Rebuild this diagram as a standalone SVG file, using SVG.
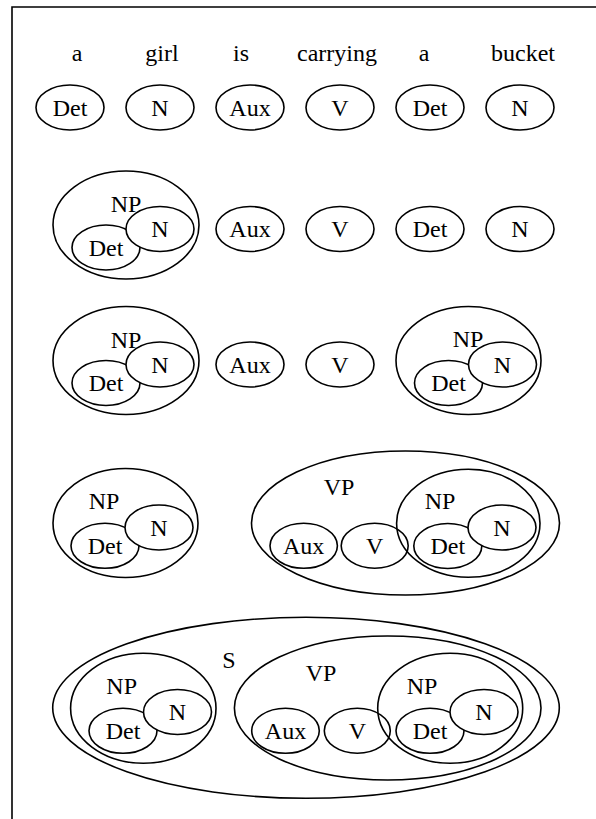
<svg xmlns="http://www.w3.org/2000/svg" width="596" height="819" viewBox="0 0 596 819">
  <style>
    .frame { fill: none; stroke: #000; stroke-width: 1.6; }
    ellipse { fill: none; stroke: #000; stroke-width: 1.6; }
    ellipse.top { fill: #fff; }
    text { font-family: "Liberation Serif", "Times New Roman", Times, "DejaVu Serif", serif; font-size: 24px; fill: #000; text-anchor: middle; }
  </style>
  <rect width="596" height="819" fill="#fff"/>
  <!-- open frame: top and left edges -->
  <path class="frame" d="M12,819 V7 H596"/>
  <g id="connectors"/>

  <g font-family="Liberation Serif, Times New Roman, serif">
  <!-- row 1: words and their categories -->
  <g id="words">
    <text x="77" y="61">a</text>
    <text x="162" y="61">girl</text>
    <text x="241" y="61">is</text>
    <text x="337" y="61">carrying</text>
    <text x="424" y="61">a</text>
    <text x="523" y="61">bucket</text>
  </g>
  <g id="r1-det1"><ellipse cx="70" cy="107.5" rx="34" ry="22.5"/><text x="70" y="115.5">Det</text></g>
  <g id="r1-n1"><ellipse cx="160" cy="107.5" rx="34" ry="22.5"/><text x="160" y="115.5">N</text></g>
  <g id="r1-aux"><ellipse cx="250" cy="107.5" rx="34" ry="22.5"/><text x="250" y="115.5">Aux</text></g>
  <g id="r1-v"><ellipse cx="340" cy="107.5" rx="34" ry="22.5"/><text x="340" y="115.5">V</text></g>
  <g id="r1-det2"><ellipse cx="430" cy="107.5" rx="34" ry="22.5"/><text x="430" y="115.5">Det</text></g>
  <g id="r1-n2"><ellipse cx="520" cy="107.5" rx="34" ry="22.5"/><text x="520" y="115.5">N</text></g>

  <!-- row 2: first NP formed -->
  <g id="r2-np1">
    <ellipse cx="126" cy="225" rx="73" ry="54"/>
    <text x="126" y="212">NP</text>
    <ellipse cx="106" cy="247.5" rx="34" ry="22.5"/><text x="106" y="255.5">Det</text>
    <ellipse class="top" cx="160" cy="229" rx="34" ry="22.5"/><text x="160" y="237">N</text>
  </g>
  <g id="r2-aux"><ellipse cx="250" cy="229" rx="34" ry="22.5"/><text x="250" y="237">Aux</text></g>
  <g id="r2-v"><ellipse cx="340" cy="229" rx="34" ry="22.5"/><text x="340" y="237">V</text></g>
  <g id="r2-det2"><ellipse cx="430" cy="229" rx="34" ry="22.5"/><text x="430" y="237">Det</text></g>
  <g id="r2-n2"><ellipse cx="520" cy="229" rx="34" ry="22.5"/><text x="520" y="237">N</text></g>

  <!-- row 3: both NPs -->
  <g id="r3-np1">
    <ellipse cx="126" cy="360.5" rx="73" ry="54"/>
    <text x="126" y="347.5">NP</text>
    <ellipse cx="106" cy="383" rx="34" ry="22.5"/><text x="106" y="391">Det</text>
    <ellipse class="top" cx="160" cy="364.5" rx="34" ry="22.5"/><text x="160" y="372.5">N</text>
  </g>
  <g id="r3-aux"><ellipse cx="250" cy="364.5" rx="34" ry="22.5"/><text x="250" y="372.5">Aux</text></g>
  <g id="r3-v"><ellipse cx="340" cy="364.5" rx="34" ry="22.5"/><text x="340" y="372.5">V</text></g>
  <g id="r3-np2">
    <ellipse cx="468.5" cy="360.5" rx="72.5" ry="54"/>
    <text x="468" y="347">NP</text>
    <ellipse cx="448.5" cy="383" rx="34" ry="22.5"/><text x="448.5" y="391">Det</text>
    <ellipse class="top" cx="502.5" cy="364.5" rx="34" ry="22.5"/><text x="502.5" y="372.5">N</text>
  </g>

  <!-- row 4: NP and VP -->
  <g id="r4-np1">
    <ellipse cx="125.5" cy="523" rx="72.5" ry="54.5"/>
    <text x="104" y="509">NP</text>
    <ellipse cx="105" cy="545.8" rx="34" ry="22.5"/><text x="105" y="553.8">Det</text>
    <ellipse class="top" cx="159" cy="527.5" rx="34" ry="22.5"/><text x="159" y="535.5">N</text>
  </g>
  <g id="r4-vp">
    <ellipse cx="405.5" cy="523" rx="154" ry="72"/>
    <text x="339" y="495">VP</text>
    <ellipse cx="303.7" cy="545.8" rx="33.7" ry="22.5"/><text x="303.7" y="553.8">Aux</text>
    <ellipse cx="374.7" cy="545.8" rx="33.5" ry="22.5"/><text x="374.7" y="553.8">V</text>
    <g id="r4-np2">
      <ellipse cx="468.3" cy="523.3" rx="71.7" ry="54"/>
      <text x="440" y="509">NP</text>
      <ellipse cx="447.8" cy="546" rx="34" ry="22.5"/><text x="447.8" y="554">Det</text>
      <ellipse class="top" cx="502" cy="527.5" rx="34" ry="22.5"/><text x="502" y="535.5">N</text>
    </g>
  </g>

  <!-- row 5: full sentence -->
  <g id="r5-s">
    <ellipse cx="306" cy="707.8" rx="253.3" ry="90.5"/>
    <text x="229" y="668">S</text>
    <g id="r5-np1">
      <ellipse cx="143.3" cy="708.3" rx="72.7" ry="55"/>
      <text x="121.7" y="694">NP</text>
      <ellipse cx="123" cy="730.8" rx="34" ry="22.5"/><text x="123" y="738.8">Det</text>
      <ellipse class="top" cx="177.5" cy="712" rx="34" ry="22.5"/><text x="177.5" y="720">N</text>
    </g>
    <g id="r5-vp">
      <ellipse cx="387.7" cy="708" rx="153.3" ry="72"/>
      <text x="321" y="680.7">VP</text>
      <ellipse cx="285.5" cy="730.8" rx="33.8" ry="22.5"/><text x="285.5" y="738.8">Aux</text>
      <ellipse cx="357.3" cy="730.8" rx="33" ry="22.5"/><text x="357.3" y="738.8">V</text>
      <g id="r5-np2">
        <ellipse cx="450.2" cy="708.3" rx="72.5" ry="55"/>
        <text x="422" y="694">NP</text>
        <ellipse cx="430" cy="730.8" rx="34" ry="22.5"/><text x="430" y="738.8">Det</text>
        <ellipse class="top" cx="484" cy="712" rx="34" ry="22.5"/><text x="484" y="720">N</text>
      </g>
    </g>
  </g>
  </g>
</svg>
